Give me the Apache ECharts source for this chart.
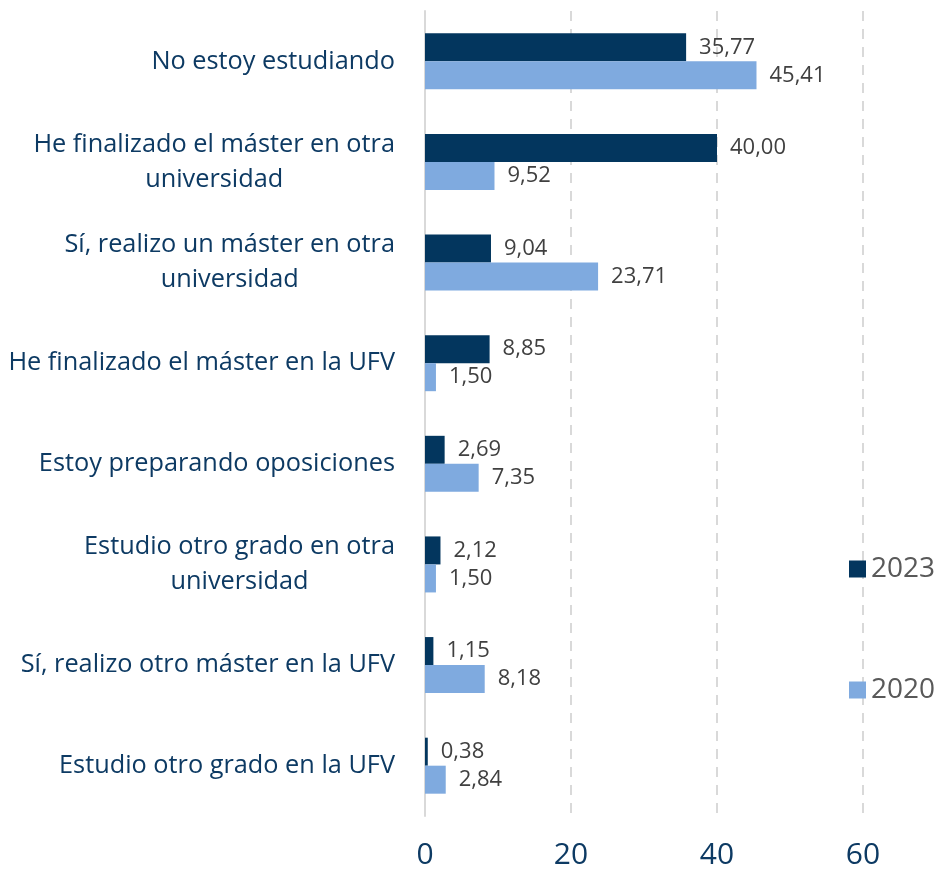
<!DOCTYPE html>
<html>
<head>
<meta charset="utf-8">
<script src="https://cdn.jsdelivr.net/npm/echarts@6/dist/echarts.min.js"></script>
<style>
  html, body { margin: 0; padding: 0; background: #fff; }
  #main { width: 941px; height: 870px; }
</style>
</head>
<body>
<div id="main"></div>
<script>
// categorías, de arriba abajo
const categories = [
  'No estoy estudiando',
  'He finalizado el máster en otra\nuniversidad',
  'Sí, realizo un máster en otra\nuniversidad',
  'He finalizado el máster en la UFV',
  'Estoy preparando oposiciones',
  'Estudio otro grado en otra\nuniversidad',
  'Sí, realizo otro máster en la UFV',
  'Estudio otro grado en la UFV'
];
const values2023 = [35.77, 40.00, 9.04, 8.85, 2.69, 2.12, 1.15, 0.38];
const values2020 = [45.41, 9.52, 23.71, 1.50, 7.35, 1.50, 8.18, 2.84];
const xTicks = [0, 20, 40, 60];

const FONT = '"Open Sans", "Noto Sans", sans-serif';
const fmt = v => v.toFixed(2).replace('.', ',');

const myChart = echarts.init(document.getElementById('main'));

const barLabel = {
  show: true,
  position: 'right',
  distance: 13,
  color: '#404040',
  fontSize: 22,
  fontFamily: FONT,
  formatter: p => fmt(p.value)
};

const option = {
  animation: false,
  grid: { left: 425, right: 78, top: 11, bottom: 54 },
  legend: {
    orient: 'vertical',
    left: 844,
    top: 550,
    itemGap: 93,
    itemWidth: 17,
    itemHeight: 17,
    icon: 'rect',
    textStyle: { color: '#595959', fontSize: 28, fontFamily: FONT },
    data: ['2023', '2020']
  },
  xAxis: {
    type: 'value',
    min: xTicks[0],
    max: xTicks[xTicks.length - 1],
    interval: 20,
    axisLine: { show: false },
    axisTick: { show: false },
    axisLabel: { color: '#0D3A63', fontSize: 30, fontFamily: FONT, margin: 24 },
    splitLine: { show: true, lineStyle: { color: '#D9D9D9', width: 2, type: [10, 8] } }
  },
  yAxis: {
    type: 'category',
    inverse: true,
    data: categories,
    axisLine: { show: true, lineStyle: { color: '#D9D9D9', width: 2 } },
    axisTick: { show: false },
    axisLabel: {
      margin: 30,
      formatter: v => v.split('\n').map(s => '{c|' + s + '}').join('\n'),
      rich: {
        c: { align: 'center', color: '#0D3A63', fontSize: 25.3, fontFamily: FONT, lineHeight: 35 }
      }
    }
  },
  series: [
    {
      name: '2023',
      type: 'bar',
      data: values2023,
      barWidth: 28,
      barGap: '0%',
      itemStyle: { color: '#03365E' },
      label: barLabel
    },
    {
      name: '2020',
      type: 'bar',
      data: values2020,
      barWidth: 28,
      itemStyle: { color: '#7FAADF' },
      label: barLabel
    }
  ]
};

myChart.setOption(option);
</script>
</body>
</html>
